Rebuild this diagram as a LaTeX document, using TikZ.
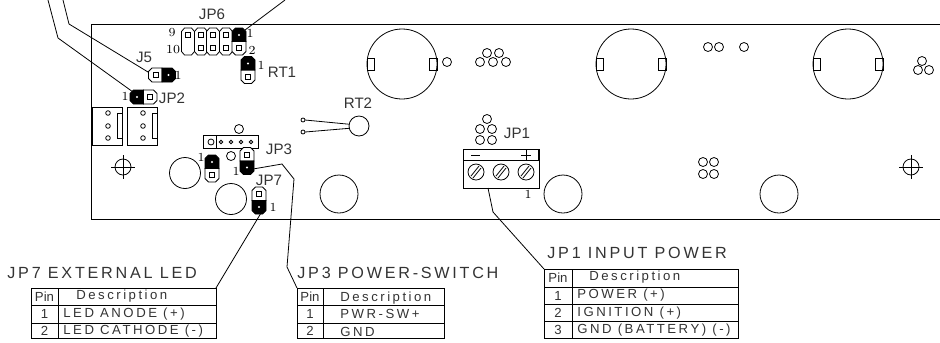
\documentclass[tikz,border=0pt]{standalone}
\usepackage{fontspec}
\setsansfont{Liberation Sans}
\newfontfamily\titlefont[LetterSpace=17]{Liberation Sans}
\newfontfamily\cellfont[LetterSpace=19]{Liberation Sans}
\tikzset{
  titlelbl/.style={font=\titlefont\fontsize{9.2}{10}\selectfont, inner sep=0pt, text=black!80},
  partlbl/.style={font=\sffamily\fontsize{8.6}{10}\selectfont, inner sep=0pt, text=black!80},
  celllbl/.style={font=\cellfont\fontsize{7.5}{8}\selectfont, inner sep=0pt, text=black!80},
  pincell/.style={font=\sffamily\fontsize{7.5}{8}\selectfont, inner sep=0pt, text=black!80},
  pinlbl/.style={font=\fontsize{7}{7}\selectfont, inner sep=0pt},
  hdr/.pic={
    \filldraw[fill=white] (0,-7) -- (-10,-7) -- (-13.5,-3.5) -- (-13.5,3.5) -- (-10,7) -- (0,7) -- cycle;
    \filldraw[fill=black] (0,-7) -- (10,-7) -- (13.5,-3.5) -- (13.5,3.5) -- (10,7) -- (0,7) -- cycle;
    \fill[white] (6.5,0) circle [radius=1.2];
    \draw[line width=0.35pt] (-9,-2.5) rectangle (-4,2.5);
  },
  hdropen/.pic={
    \filldraw[fill=white] (-3.5,-13.5) -- (3.5,-13.5) -- (6.5,-10) -- (6.5,10) -- (3.5,13.5) -- (-3.5,13.5) -- (-6.5,10) -- (-6.5,-10) -- cycle;
  }
}
\begin{document}
\begin{tikzpicture}[x=0.02cm, y=-0.02cm, line width=0.45pt]
  \useasboundingbox (0, 0) rectangle (940, 342);
  % board
  \draw (940, 24) -- (91, 24) -- (91, 219) -- (940, 219);
  % batteries
  \foreach \x in {402, 631, 848} {
    \draw (\x, 64) circle [radius=35];
    \draw (\x-35, 58) rectangle (\x-27.5, 70);
    \draw (\x+27.5, 58) rectangle (\x+35, 70);
  }
  % small pads
  \foreach \x/\y in {447/62, 487/53, 499/53, 480/62, 493/62, 506/62, 487/119, 480/129, 492/129, 480/140, 492/140,
      708/47, 719/47, 744/47, 922/61, 918/70, 929/70, 703/162, 714/162, 703/174, 714/174, 239/129, 231/156}
    \draw (\x, \y) circle [radius=4.5];
  % mounting holes
  \foreach \x/\y/\r in {185/173/15.5, 231/199/15.5, 339/194/19, 563/194/19, 779/194/19}
    \draw (\x, \y) circle [radius=\r];
  \foreach \x in {123, 911} {
    \draw (\x, 167) circle [radius=8];
    \draw (\x-12, 167) -- (\x+12, 167);
    \draw (\x, 155) -- (\x, 179);
  }
  % white connectors
  \foreach \x in {92, 127} {
    \draw (\x, 107) rectangle (\x+30, 145);
    \draw (\x+25, 113) rectangle (\x+30, 138);
    \foreach \y in {113, 126, 138}
      \draw (\x+16, \y) circle [radius=2.3];
  }
  % JP3 strip
  \draw (203, 135) rectangle (258, 148);
  \draw (216, 135) -- (216, 148);
  \draw (211, 142) circle [radius=3];
  \foreach \x in {221, 231, 241, 251}
    \draw (\x, 142) circle [radius=1.8];
  % RT2
  \node[draw, circle, minimum size=0.4cm, inner sep=0pt] (rt2) at (359, 126) {};
  \coordinate (rt2a) at (305, 120);
  \coordinate (rt2b) at (305, 132);
  \draw (303, 120) circle [radius=2];
  \draw (303, 132) circle [radius=2];
  \draw (rt2a) -- (rt2.170);
  \draw (rt2b) -- (rt2.193);
  % headers
  \pic[rotate=0] at (162, 75) {hdr};
  \pic[rotate=180] at (143.5, 97) {hdr};
  \pic[rotate=90] at (248, 70) {hdr};
  \pic[rotate=-90] at (247, 161) {hdr};
  \pic[rotate=90] at (212, 168.5) {hdr};
  \pic[rotate=-90] at (259, 200.5) {hdr};
  % JP6
  \foreach \x in {188, 201, 213, 226}
    \pic at (\x, 41.5) {hdropen};
  \pic[rotate=90] at (239, 41.5) {hdr};
  \foreach \x in {188, 201, 213, 226} {
    \draw[line width=0.35pt] (\x-2.5, 32.5) rectangle (\x+2.5, 37.5);
  }
  \foreach \x in {201, 213, 226} {
    \draw[line width=0.35pt] (\x-2.5, 45.5) rectangle (\x+2.5, 50.5);
  }
  % terminal block
  \draw (463, 149) rectangle (539, 188);
  \draw (463, 160) -- (539, 160);
  \draw (538, 149) -- (538, 160);
  \draw (471, 155) -- (480, 155);
  \draw (521, 155) -- (531, 155);
  \draw (526, 150) -- (526, 160);
  \foreach \x in {476, 501, 526} {
    \draw (\x, 172) circle [radius=8];
    \draw (\x-5, 176) -- (\x+3, 166);
    \draw (\x-3, 178) -- (\x+5, 168);
  }
  % part labels
  \node[partlbl] (jp6lbl) at (212, 14) {JP6};
  \node[partlbl] (j5lbl) at (144, 57) {J5};
  \node[partlbl] (jp2lbl) at (172, 98) {JP2};
  \node[partlbl] (rt1lbl) at (282, 72) {RT1};
  \node[partlbl] (rt2lbl) at (358, 103) {RT2};
  \node[partlbl] (jp3lbl) at (279, 149) {JP3};
  \node[partlbl] (jp7lbl) at (269, 180) {JP7};
  \node[partlbl] (jp1lbl) at (517, 133) {JP1};
  % pin numbers
  \foreach \x/\y/\t [count=\i] in {172/33/9, 173/50/10, 250/33/1, 252/50/2, 178/75/1, 125/96/1, 261/65/1,
      236/171/1, 201/157/1, 273/207/1, 528/194/1}
    \node[pinlbl] (pin\i) at (\x, \y) {\t};
  % JP7 table
  \draw (31, 288) rectangle (216, 338);
  \draw (31, 305) -- (216, 305);
  \draw (31, 323) -- (216, 323);
  \draw (58, 288) -- (58, 338);
  \node[titlelbl, anchor=west] (jp7title) at (7, 273) {JP7 EXTERNAL LED};
  \node[pincell] (jp7pin) at (44.5, 296.5) {Pin};
  \node[celllbl, anchor=west] (jp7desc) at (76, 296) {Description};
  \node[pincell] (jp7a) at (44.5, 314) {1};
  \node[celllbl, anchor=west] (jp7b) at (63, 314) {LED ANODE (+)};
  \node[pincell] (jp7c) at (44.5, 331) {2};
  \node[celllbl, anchor=west] (jp7d) at (63, 331) {LED CATHODE (-)};
  % JP3 table
  \draw (297, 288) rectangle (444, 338);
  \draw (297, 305) -- (444, 305);
  \draw (297, 323) -- (444, 323);
  \draw (323, 288) -- (323, 338);
  \node[titlelbl, anchor=west] (jp3title) at (297, 273) {JP3 POWER-SWITCH};
  \node[pincell] (jp3pin) at (310, 297) {Pin};
  \node[celllbl, anchor=west] (jp3desc) at (340, 298) {Description};
  \node[pincell] (jp3a) at (310, 314) {1};
  \node[celllbl, anchor=west] (jp3b) at (340, 314) {PWR-SW+};
  \node[pincell] (jp3c) at (310, 331) {2};
  \node[celllbl, anchor=west] (jp3d) at (340, 332) {GND};
  % JP1 table
  \draw (544, 269) rectangle (738, 338);
  \foreach \y in {287, 304, 321}
    \draw (544, \y) -- (738, \y);
  \draw (572, 269) -- (572, 338);
  \node[titlelbl, anchor=west] (jp1title) at (547, 253) {JP1 INPUT POWER};
  \node[pincell] (jp1pin) at (558, 278) {Pin};
  \node[celllbl, anchor=west] (jp1desc) at (589, 277) {Description};
  \node[pincell] (jp1a) at (558, 295.5) {1};
  \node[celllbl, anchor=west] (jp1b) at (577, 295.5) {POWER (+)};
  \node[pincell] (jp1c) at (558, 313) {2};
  \node[celllbl, anchor=west] (jp1d) at (577, 313) {IGNITION (+)};
  \node[pincell] (jp1e) at (558, 330) {3};
  \node[celllbl, anchor=west] (jp1f) at (577, 330) {GND (BATTERY) (-)};
  % leaders
  \coordinate (topa) at (48, 0);
  \coordinate (benda) at (58, 38);
  \coordinate (jp2pad) at (133, 92);
  \coordinate (topb) at (63, 0);
  \coordinate (bendb) at (69, 24);
  \coordinate (j5pad) at (148, 72);
  \coordinate (topc) at (285, 0);
  \coordinate (jp6pad) at (245, 30);
  \coordinate (jp7pad) at (261, 213);
  \coordinate (jp7tbl) at (216, 288);
  \coordinate (jp3pad) at (253, 169);
  \coordinate (bendc) at (282, 164);
  \coordinate (bendd) at (294, 179);
  \coordinate (bende) at (287, 267);
  \coordinate (jp3tbl) at (297, 288);
  \coordinate (jp1pad) at (488, 188);
  \coordinate (bendf) at (493, 212);
  \coordinate (jp1tbl) at (544, 269);
  \draw (topa) -- (benda) -- (jp2pad);
  \draw (topb) -- (bendb) -- (j5pad);
  \draw (topc) -- (jp6pad);
  \draw (jp7pad) -- (jp7tbl);
  \draw (jp3pad) -- (bendc) -- (bendd) -- (bende) -- (jp3tbl);
  \draw (jp1pad) -- (bendf) -- (jp1tbl);
\end{tikzpicture}
\end{document}
